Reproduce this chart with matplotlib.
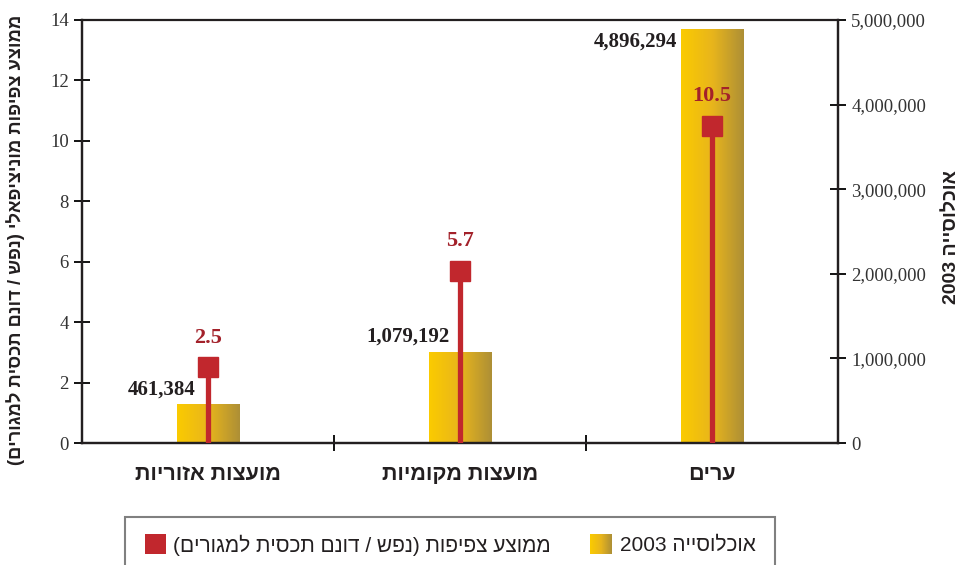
import numpy as np
import matplotlib.pyplot as plt
from matplotlib.colors import LinearSegmentedColormap
from matplotlib.patches import Rectangle
from matplotlib.ticker import FuncFormatter


def heb(s):
    # matplotlib has no bidi: reverse to visual order, keep digit runs LTR
    r = s[::-1].translate(str.maketrans("()", ")("))
    out, run = "", ""
    for ch in r:
        if ch.isdigit() or (run and ch in ".,"):
            run += ch
        else:
            out += run[::-1] + ch
            run = ""
    return out + run[::-1]


categories = ["מועצות אזוריות", "מועצות מקומיות", "ערים"]
population = [461384, 1079192, 4896294]
density = [2.5, 5.7, 10.5]

ylabel_left = "ממוצע צפיפות מוניציפאלי (נפש / דונם תכסית למגורים)"
ylabel_right = "אוכלוסייה 2003"
legend_density = "ממוצע צפיפות (נפש / דונם תכסית למגורים)"
legend_pop = "אוכלוסייה 2003"

SANS = ["Liberation Sans", "DejaVu Sans"]
SERIF = ["Liberation Serif", "DejaVu Serif"]
RED = "#c1272d"
RED_TXT = "#a3212a"
gold = LinearSegmentedColormap.from_list("gold", ["#fbcb00", "#e8b51c", "#ad8f36"])
grad = np.linspace(0, 1, 256).reshape(1, -1)

fig = plt.figure(figsize=(9.62, 5.65), dpi=100)
ax = fig.add_axes([82 / 962, 1 - 443 / 565, 756 / 962, 423 / 565])
ax2 = ax.twinx()
ax.set_zorder(ax2.get_zorder() + 1)
ax.patch.set_visible(False)

x = np.arange(len(categories))
w = 0.25

# population bars with a left-to-right gold gradient
bars = ax2.bar(x, population, width=w, color="none", edgecolor="none")
for b in bars:
    im = ax2.imshow(grad, cmap=gold, aspect="auto", zorder=1,
                    extent=(b.get_x(), b.get_x() + b.get_width(), 0, b.get_height()))
    im.set_clip_path(b)

pop_off = [(14, 10), (15, 11), (-2.5, -9)]
for xi, p, off in zip(x, population, pop_off):
    ax2.annotate(f"{p:,}", (xi - w / 2, p), xytext=off, textcoords="offset points",
                 ha="right", va="center", fontsize=15, fontweight="bold",
                 family=SERIF, color="#231f20", zorder=6)

# density stems
ax.vlines(x, 0, density, color=RED, lw=3.8, zorder=3)
ax.plot(x, density, "s", color=RED, ms=14.5, zorder=4)
for xi, d in zip(x, density):
    ax.annotate(f"{d}", (xi, d), xytext=(0, 14), textcoords="offset points",
                ha="center", va="bottom", fontsize=16, fontweight="bold",
                family=SERIF, color=RED_TXT)

ax.set_xlim(-0.5, 2.5)
ax.set_ylim(0, 14)
ax.set_yticks(np.arange(0, 15, 2))
ax2.set_xlim(-0.5, 2.5)
ax2.set_ylim(0, 5000000)
ax2.set_yticks(np.arange(0, 5000001, 1000000))
ax2.yaxis.set_major_formatter(FuncFormatter(lambda v, _: f"{int(v):,}"))

ax.set_xticks(x)
ax.set_xticklabels([heb(c) for c in categories], fontsize=15.5, fontweight="bold",
                   family=SANS, color="#231f20")
ax.set_xticks([0.5, 1.5], minor=True)
ax.tick_params(axis="x", which="major", length=0, pad=15)
ax.tick_params(axis="x", which="minor", direction="inout", length=11, width=1.3)
ax.tick_params(axis="y", direction="inout", length=11, width=1.3, pad=4,
               labelsize=13.5, labelcolor="#333333")
ax2.tick_params(axis="y", direction="inout", length=11, width=1.3, pad=4,
                labelsize=13.5, labelcolor="#333333")
for lab in ax.get_yticklabels() + ax2.get_yticklabels():
    lab.set_family(SERIF)

for a in (ax, ax2):
    for s in a.spines.values():
        s.set_linewidth(1.6)
        s.set_color("#231f20")
ax.spines["top"].set_linewidth(1.2)

ax.set_ylabel(heb(ylabel_left), fontsize=13.2, fontweight="bold", family=SANS,
              color="#231f20")
ax.yaxis.set_label_coords(-0.076, 0.48)
ax2.set_ylabel(heb(ylabel_right), fontsize=14, fontweight="bold", family=SANS,
               color="#231f20", rotation=90)
ax2.yaxis.set_label_coords(1.139, 0.487)

# legend box running off the bottom edge
fig.patches.append(Rectangle((125 / 962, -0.05), 650 / 962, 1 - 517 / 565 + 0.05,
                             transform=fig.transFigure, facecolor="white",
                             edgecolor="#808080", lw=1.5, zorder=0))
fig.patches.append(Rectangle((145 / 962, 1 - 554 / 565), 21 / 962, 20 / 565,
                             transform=fig.transFigure, facecolor=RED, edgecolor="none",
                             zorder=1))
sw = fig.add_axes([590 / 962, 1 - 554 / 565, 22 / 962, 20 / 565])
sw.imshow(grad, cmap=gold, aspect="auto")
sw.axis("off")
sw.set_zorder(5)
fig.text(173 / 962, 1 - 545 / 565, heb(legend_density), fontsize=15, family=SANS,
         color="#231f20", ha="left", va="center")
fig.text(620 / 962, 1 - 545 / 565, heb(legend_pop), fontsize=15, family=SANS,
         color="#231f20", ha="left", va="center")

fig.savefig("out.png", dpi=100)
